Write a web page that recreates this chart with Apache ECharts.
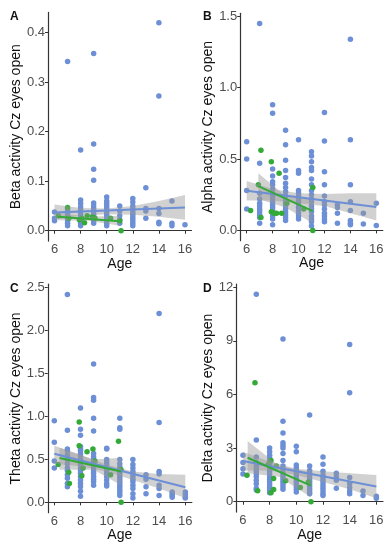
<!DOCTYPE html>
<html><head><meta charset="utf-8">
<script src="https://cdn.jsdelivr.net/npm/echarts@6/dist/echarts.min.js"></script>
<style>html,body{margin:0;padding:0;background:#fff}#c{width:392px;height:550px}</style>
</head><body><div id="c"></div>
<script>
// ---------- data ----------
const ages = [6,7,8,9,10,11,12,13,14,15,16];

// Beta (panel A): blue values per age column
const betaBlue = [
  [0.038,0.025,0.02],
  [0.342,0.045,0.04,0.035,0.03,0.025,0.02,0.015,0.01],
  [0.163,0.062,0.055,0.048,0.042,0.035,0.03,0.025,0.02,0.015,0.01],
  [0.358,0.175,0.124,0.102,0.056,0.05,0.045,0.04,0.035,0.03,0.025,0.02,0.015],
  [0.068,0.06,0.055,0.05,0.045,0.04,0.035,0.03,0.025,0.02,0.015,0.01],
  [0.05,0.04,0.03,0.022,0.015],
  [0.065,0.058,0.05,0.045,0.04,0.035,0.03,0.025,0.02,0.015,0.01],
  [0.087,0.045,0.04,0.025],
  [0.42,0.272,0.045,0.035,0.017,0.014],
  [0.06,0.015,0.01],
  [0.012]
];
const betaGreen = [[6.3,0.03],[7,0.047],[7.1,0.025],[7.9,0.022],[8.1,0.025],[8.3,0.016],[8.5,0.03],[8.9,0.028],[9.1,0.025],[10.3,0.025],[11,0.02],[11.1,0.0]];
const betaBlueLine = [[6,0.037],[16,0.047]];
const betaGreenLine = [[6.25,0.028],[11,0.019]];
const betaBlueBand = [[6,0.022,0.053],[8,0.030,0.046],[10,0.033,0.045],[12,0.032,0.050],[14,0.028,0.060],[16,0.022,0.072]];
const betaGreenBand = [[6.25,0.021,0.036],[8.6,0.020,0.028],[11,0.010,0.030]];

// Alpha (panel B)
const alphaBlue = [
  [0.62,0.5,0.28,0.15],
  [1.447,0.47,0.26,0.22,0.19,0.17,0.15,0.13,0.11,0.09,0.05],
  [0.88,0.82,0.43,0.38,0.34,0.32,0.29,0.26,0.24,0.22,0.2,0.18,0.16,0.14,0.12,0.1,0.08,0.04],
  [0.70,0.60,0.49,0.42,0.37,0.33,0.3,0.27,0.24,0.21,0.19,0.17,0.15,0.13,0.11,0.09,0.07],
  [0.635,0.42,0.40,0.28,0.26,0.24,0.22,0.2,0.18,0.16,0.14,0.12,0.1,0.08],
  [0.55,0.52,0.48,0.44,0.42,0.36,0.32,0.28,0.25,0.22,0.2,0.17,0.15,0.13,0.1,0.08,0.06,0.03],
  [0.825,0.625,0.41,0.32,0.24,0.2,0.18,0.15,0.12,0.1,0.08,0.06],
  [0.18,0.16,0.12,0.05],
  [1.337,0.635,0.32,0.2,0.14,0.07,0.05,0.04],
  [0.12,0.045],
  [0.19,0.035]
];
const alphaGreen = [[6.3,0.14],[6.9,0.32],[7.1,0.56],[7.1,0.09],[7.9,0.48],[7.9,0.13],[8.1,0.12],[8.3,0.12],[8.5,0.40],[8.7,0.12],[9.1,0.19],[10.4,0.15],[11.1,0.30],[11.1,0.0]];
const alphaBlueLine = [[6,0.278],[16,0.163]];
const alphaGreenLine = [[6.9,0.31],[11.1,0.135]];
const alphaBlueBand = [[6,0.21,0.345],[8,0.21,0.29],[10,0.19,0.26],[12,0.17,0.255],[14,0.12,0.26],[16,0.07,0.26]];
const alphaGreenBand = [[6.9,0.22,0.40],[9,0.16,0.24],[11.1,0.05,0.22]];

// Theta (panel C)
const thetaBlue = [
  [0.95,0.70,0.48,0.40],
  [2.42,0.84,0.62,0.6,0.55,0.5,0.45,0.4,0.37,0.32,0.28,0.22,0.18],
  [1.10,0.85,0.78,0.65,0.62,0.6,0.57,0.54,0.5,0.47,0.44,0.4,0.37,0.34,0.3,0.26,0.22,0.18,0.13,0.07],
  [1.61,1.22,1.19,0.98,0.83,0.57,0.53,0.5,0.47,0.44,0.4,0.37,0.34,0.3,0.27,0.24,0.2],
  [0.63,0.62,0.5,0.47,0.44,0.4,0.37,0.34,0.3,0.26,0.22,0.19],
  [0.98,0.87,0.85,0.5,0.45,0.41,0.38,0.35,0.32,0.29,0.26,0.23,0.2,0.17,0.14,0.11,0.08],
  [0.5,0.44,0.4,0.36,0.33,0.3,0.27,0.24,0.2,0.16,0.1,0.05],
  [0.32,0.27,0.18,0.1],
  [2.20,0.93,0.36,0.33,0.2,0.16,0.08],
  [0.12,0.1,0.08,0.06],
  [0.12,0.09,0.06,0.05]
];
const thetaGreen = [[6.3,0.44],[7.1,0.35],[7.15,0.22],[7.9,0.935],[7.9,0.66],[8.1,0.31],[8.2,0.40],[8.5,0.59],[8.95,0.62],[9.1,0.48],[10.3,0.32],[10.9,0.71],[11.1,0.38],[11.1,0.0]];
const thetaBlueLine = [[6,0.566],[16,0.175]];
const thetaGreenLine = [[6.4,0.516],[11.1,0.36]];
const thetaBlueBand = [[6,0.45,0.66],[8,0.42,0.55],[10,0.36,0.44],[12,0.26,0.36],[14,0.16,0.33],[16,0.05,0.32]];
const thetaGreenBand = [[6.4,0.38,0.64],[9,0.38,0.50],[11.1,0.20,0.52]];

// Delta (panel D)
const deltaBlue = [
  [2.6,2.2,1.85,1.55],
  [11.6,3.45,2.5,2.2,2.0,1.85,1.7,1.55,1.4,1.2,1.0,0.75,0.65],
  [3.0,2.8,2.6,2.45,2.3,2.15,2.0,1.85,1.7,1.55,1.4,1.25,1.1,0.95,0.8,0.65,0.5],
  [9.1,4.5,3.85,3.3,3.15,3.0,2.7,2.3,2.0,1.8,1.6,1.45,1.3,1.15,1.0,0.85,0.7],
  [3.1,2.8,2.05,1.9,1.75,1.6,1.45,1.3,1.15,1.0,0.85,0.7,0.55],
  [4.85,2.0,1.75,1.6,1.45,1.3,1.15,1.0,0.85,0.7,0.55,0.45],
  [2.5,2.1,1.7,1.5,1.35,1.2,1.05,0.9,0.75,0.6,0.45,0.35],
  [1.6,1.4,1.2,0.75],
  [8.8,6.1,1.35,1.0,0.8,0.6,0.45],
  [0.6,0.35],
  [0.3,0.2]
];
const deltaGreen = [[6.3,1.48],[6.9,6.65],[7.1,0.62],[7.9,2.1],[8.1,2.3],[8.1,0.5],[8.3,0.68],[8.3,1.3],[8.5,2.0],[9.2,1.18],[10.3,0.8],[10.9,1.1],[11.1,0.0]];
const deltaBlueLine = [[6,2.28],[16,0.85]];
const deltaGreenLine = [[6.35,2.46],[11.1,0.9]];
const deltaBlueBand = [[6,1.75,2.8],[8,1.75,2.25],[10,1.5,1.85],[12,1.1,1.7],[14,0.7,1.6],[16,0.2,1.5]];
const deltaGreenBand = [[6.35,1.6,3.4],[8.7,1.4,2.0],[11.1,0.25,1.65]];

const xTicks = [6,8,10,12,14,16];
const betaTicks = [0,0.1,0.2,0.3,0.4];
const alphaTicks = [0,0.5,1.0,1.5];
const thetaTicks = [0,0.5,1.0,1.5,2.0,2.5];
const deltaTicks = [0,3,6,9,12];

// ---------- chart ----------
const BLUE = '#6c8fd6', GREEN = '#33a937', FONT = 'Liberation Sans';
function cols(arr){ const out=[]; arr.forEach((vals,i)=>vals.forEach(v=>out.push([ages[i],v]))); return out; }

const panels = [
  {letter:'A', name:'Beta activity Cz eyes open', blue:betaBlue, green:betaGreen, bl:betaBlueLine, gl:betaGreenLine, bb:betaBlueBand, gb:betaGreenBand, ticks:betaTicks, ymin:-0.021, ymax:0.441, dec:1, grid:{left:48, top:12.4, width:143.5, height:228.7}, gap:25},
  {letter:'B', name:'Alpha activity Cz eyes open', blue:alphaBlue, green:alphaGreen, bl:alphaBlueLine, gl:alphaGreenLine, bb:alphaBlueBand, gb:alphaGreenBand, ticks:alphaTicks, ymin:-0.072, ymax:1.519, dec:1, grid:{left:240.2, top:13.3, width:142.6, height:227.4}, gap:25},
  {letter:'C', name:'Theta activity Cz eyes open', blue:thetaBlue, green:thetaGreen, bl:thetaBlueLine, gl:thetaGreenLine, bb:thetaBlueBand, gb:thetaGreenBand, ticks:thetaTicks, ymin:-0.121, ymax:2.541, dec:1, grid:{left:47.75, top:284.2, width:144.1, height:228.5}, gap:25},
  {letter:'D', name:'Delta activity Cz eyes open', blue:deltaBlue, green:deltaGreen, bl:deltaBlueLine, gl:deltaGreenLine, bb:deltaBlueBand, gb:deltaGreenBand, ticks:deltaTicks, ymin:-0.58, ymax:12.18, dec:0, grid:{left:236.3, top:284, width:146.7, height:228.1}, gap:21}
];

function bandSeries(i, band, z){
  return {type:'custom', xAxisIndex:i, yAxisIndex:i, z:z, silent:true, data:band,
    renderItem:function(params, api){
      if (params.dataIndex !== 0) return;
      const up = band.map(d=>api.coord([d[0], d[2]]));
      const lo = band.map(d=>api.coord([d[0], d[1]])).reverse();
      return {type:'polygon', shape:{points: up.concat(lo)}, style:{fill:'#999999', opacity:0.45}};
    }};
}

const grid=[], xAxis=[], yAxis=[], series=[], graphic=[];
panels.forEach((p,i)=>{
  grid.push(p.grid);
  const axisLine = {show:true, lineStyle:{color:'#333', width:1.2}};
  xAxis.push({type:'value', gridIndex:i, min:5.5, max:16.5, name:'Age', nameLocation:'middle', nameGap:15,
    nameTextStyle:{color:'#111', fontSize:14, fontFamily:FONT},
    axisLine:axisLine, splitLine:{show:false},
    axisTick:{show:true, length:3, lineStyle:{color:'#333'}, customValues:xTicks},
    axisLabel:{color:'#4d4d4d', fontSize:13, fontFamily:FONT, margin:2, customValues:xTicks}});
  yAxis.push({type:'value', gridIndex:i, min:p.ymin, max:p.ymax, name:p.name, nameLocation:'middle', nameGap:p.gap,
    nameRotate:90, nameTextStyle:{color:'#111', fontSize:14, fontFamily:FONT},
    axisLine:axisLine, splitLine:{show:false},
    axisTick:{show:true, length:3, lineStyle:{color:'#333'}, customValues:p.ticks},
    axisLabel:{color:'#4d4d4d', fontSize:13, fontFamily:FONT, margin:3, customValues:p.ticks,
      formatter:v=>Number(v).toFixed(p.dec)}});
  series.push({type:'scatter', xAxisIndex:i, yAxisIndex:i, data:cols(p.blue), symbolSize:5.5, z:2, itemStyle:{color:BLUE, opacity:1}});
  series.push({type:'scatter', xAxisIndex:i, yAxisIndex:i, data:p.green, symbolSize:5.5, z:2, itemStyle:{color:GREEN, opacity:1}});
  series.push(bandSeries(i, p.bb, 3));
  series.push(bandSeries(i, p.gb, 3));
  series.push({type:'line', xAxisIndex:i, yAxisIndex:i, data:p.bl, symbol:'none', z:4, lineStyle:{color:BLUE, width:2}});
  series.push({type:'line', xAxisIndex:i, yAxisIndex:i, data:p.gl, symbol:'none', z:4, lineStyle:{color:GREEN, width:2}});
  graphic.push({type:'text', left: i%2===0 ? 10 : 203, top: i<2 ? 11 : 283,
    style:{text:p.letter, font:'bold 12px '+FONT, fill:'#111'}});
});

const chart = echarts.init(document.getElementById('c'), null, {renderer:'canvas'});
chart.setOption({animation:false, backgroundColor:'#fff', grid, xAxis, yAxis, series, graphic});
</script>
</body></html>
